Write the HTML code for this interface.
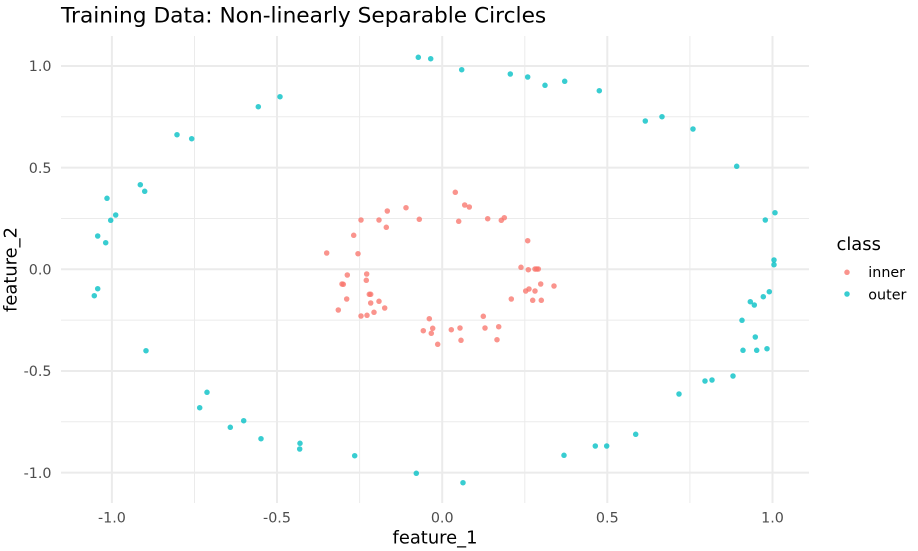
<!DOCTYPE html>
<html>
<head>
<meta charset="utf-8">
<style>
  html, body { margin: 0; padding: 0; background: #ffffff; }
  svg { display: block; }
  text { font-family: "DejaVu Sans", "Liberation Sans", sans-serif; }
</style>
</head>
<body>
<svg width="918" height="551" viewBox="0 0 918 551" xmlns="http://www.w3.org/2000/svg">
  <rect x="0" y="0" width="918" height="551" fill="#ffffff"/>
  <g stroke="#EBEBEB" stroke-width="1">
    <line x1="194.5" y1="36" x2="194.5" y2="503"/>
    <line x1="359.6" y1="36" x2="359.6" y2="503"/>
    <line x1="524.8" y1="36" x2="524.8" y2="503"/>
    <line x1="689.9" y1="36" x2="689.9" y2="503"/>
    <line x1="61" y1="116.8" x2="809" y2="116.8"/>
    <line x1="61" y1="218.5" x2="809" y2="218.5"/>
    <line x1="61" y1="320.1" x2="809" y2="320.1"/>
    <line x1="61" y1="421.8" x2="809" y2="421.8"/>
  </g>
  <g stroke="#EBEBEB" stroke-width="2">
    <line x1="111.9" y1="36" x2="111.9" y2="503"/>
    <line x1="277" y1="36" x2="277" y2="503"/>
    <line x1="442.2" y1="36" x2="442.2" y2="503"/>
    <line x1="607.3" y1="36" x2="607.3" y2="503"/>
    <line x1="772.5" y1="36" x2="772.5" y2="503"/>
    <line x1="61" y1="66" x2="809" y2="66"/>
    <line x1="61" y1="167.6" x2="809" y2="167.6"/>
    <line x1="61" y1="269.3" x2="809" y2="269.3"/>
    <line x1="61" y1="371" x2="809" y2="371"/>
    <line x1="61" y1="472.6" x2="809" y2="472.6"/>
  </g>
  <g fill="#00BFC4" fill-opacity="0.78">
    <circle cx="418.3" cy="57.3" r="2.75"/>
    <circle cx="430.7" cy="58.7" r="2.75"/>
    <circle cx="461.7" cy="69.7" r="2.75"/>
    <circle cx="510.3" cy="74" r="2.75"/>
    <circle cx="527.7" cy="77" r="2.75"/>
    <circle cx="545" cy="85.3" r="2.75"/>
    <circle cx="564.7" cy="81.3" r="2.75"/>
    <circle cx="599.3" cy="90.7" r="2.75"/>
    <circle cx="645.3" cy="121" r="2.75"/>
    <circle cx="662" cy="116.7" r="2.75"/>
    <circle cx="693" cy="129" r="2.75"/>
    <circle cx="736.7" cy="166.3" r="2.75"/>
    <circle cx="765.3" cy="220" r="2.75"/>
    <circle cx="775" cy="212.7" r="2.75"/>
    <circle cx="774" cy="260" r="2.75"/>
    <circle cx="774" cy="264.7" r="2.75"/>
    <circle cx="258.3" cy="106.7" r="2.75"/>
    <circle cx="280" cy="96.7" r="2.75"/>
    <circle cx="177" cy="134.7" r="2.75"/>
    <circle cx="191.7" cy="138.7" r="2.75"/>
    <circle cx="140.3" cy="184.7" r="2.75"/>
    <circle cx="144.7" cy="191.3" r="2.75"/>
    <circle cx="107" cy="198.3" r="2.75"/>
    <circle cx="115.7" cy="215" r="2.75"/>
    <circle cx="110.7" cy="220.3" r="2.75"/>
    <circle cx="97.7" cy="236" r="2.75"/>
    <circle cx="105.7" cy="242.7" r="2.75"/>
    <circle cx="97.7" cy="288.7" r="2.75"/>
    <circle cx="94.3" cy="295.7" r="2.75"/>
    <circle cx="146" cy="350.7" r="2.75"/>
    <circle cx="207" cy="392.3" r="2.75"/>
    <circle cx="199.7" cy="407.7" r="2.75"/>
    <circle cx="243.7" cy="420.7" r="2.75"/>
    <circle cx="230.3" cy="427.3" r="2.75"/>
    <circle cx="261" cy="438.7" r="2.75"/>
    <circle cx="300" cy="443.3" r="2.75"/>
    <circle cx="299.7" cy="449" r="2.75"/>
    <circle cx="354.7" cy="455.7" r="2.75"/>
    <circle cx="416.3" cy="473.3" r="2.75"/>
    <circle cx="769.3" cy="291.7" r="2.75"/>
    <circle cx="763.3" cy="296.7" r="2.75"/>
    <circle cx="750.3" cy="301.7" r="2.75"/>
    <circle cx="754.3" cy="305" r="2.75"/>
    <circle cx="742" cy="320.3" r="2.75"/>
    <circle cx="755.3" cy="337" r="2.75"/>
    <circle cx="743" cy="350.3" r="2.75"/>
    <circle cx="756.7" cy="350.3" r="2.75"/>
    <circle cx="767" cy="348.7" r="2.75"/>
    <circle cx="733" cy="376" r="2.75"/>
    <circle cx="705" cy="381" r="2.75"/>
    <circle cx="712" cy="380" r="2.75"/>
    <circle cx="679" cy="394" r="2.75"/>
    <circle cx="635.7" cy="434.3" r="2.75"/>
    <circle cx="595.3" cy="446" r="2.75"/>
    <circle cx="606.7" cy="446" r="2.75"/>
    <circle cx="564" cy="455.3" r="2.75"/>
    <circle cx="463" cy="482.7" r="2.75"/>
  </g>
  <g fill="#F8766D" fill-opacity="0.78">
    <circle cx="455.3" cy="192.3" r="2.75"/>
    <circle cx="464.7" cy="205" r="2.75"/>
    <circle cx="469.3" cy="207" r="2.75"/>
    <circle cx="458.7" cy="221.3" r="2.75"/>
    <circle cx="487.7" cy="218.7" r="2.75"/>
    <circle cx="501.3" cy="220.3" r="2.75"/>
    <circle cx="504.3" cy="217.7" r="2.75"/>
    <circle cx="527.7" cy="240.7" r="2.75"/>
    <circle cx="521" cy="267.3" r="2.75"/>
    <circle cx="528.3" cy="269.7" r="2.75"/>
    <circle cx="535" cy="269" r="2.75"/>
    <circle cx="536.7" cy="269" r="2.75"/>
    <circle cx="538.3" cy="269" r="2.75"/>
    <circle cx="540.7" cy="284" r="2.75"/>
    <circle cx="554" cy="286" r="2.75"/>
    <circle cx="525.7" cy="291" r="2.75"/>
    <circle cx="529" cy="289" r="2.75"/>
    <circle cx="535" cy="291" r="2.75"/>
    <circle cx="532.7" cy="300.3" r="2.75"/>
    <circle cx="541.3" cy="300.3" r="2.75"/>
    <circle cx="511.3" cy="299" r="2.75"/>
    <circle cx="483.3" cy="316.3" r="2.75"/>
    <circle cx="485" cy="328" r="2.75"/>
    <circle cx="498.7" cy="326.7" r="2.75"/>
    <circle cx="497" cy="339.7" r="2.75"/>
    <circle cx="460" cy="328" r="2.75"/>
    <circle cx="451.3" cy="329.7" r="2.75"/>
    <circle cx="461" cy="340.3" r="2.75"/>
    <circle cx="437.7" cy="344.3" r="2.75"/>
    <circle cx="429.3" cy="318.7" r="2.75"/>
    <circle cx="432.7" cy="328.3" r="2.75"/>
    <circle cx="431.3" cy="333.3" r="2.75"/>
    <circle cx="423.3" cy="330.7" r="2.75"/>
    <circle cx="361" cy="316" r="2.75"/>
    <circle cx="367" cy="315.3" r="2.75"/>
    <circle cx="374" cy="312.3" r="2.75"/>
    <circle cx="384.7" cy="308" r="2.75"/>
    <circle cx="379" cy="301.3" r="2.75"/>
    <circle cx="370.7" cy="303" r="2.75"/>
    <circle cx="369.3" cy="294.3" r="2.75"/>
    <circle cx="370.7" cy="294.3" r="2.75"/>
    <circle cx="346.7" cy="299" r="2.75"/>
    <circle cx="338.3" cy="310" r="2.75"/>
    <circle cx="342" cy="284" r="2.75"/>
    <circle cx="343.3" cy="284.3" r="2.75"/>
    <circle cx="347.3" cy="275" r="2.75"/>
    <circle cx="366.7" cy="274" r="2.75"/>
    <circle cx="366.3" cy="280.3" r="2.75"/>
    <circle cx="326.7" cy="253" r="2.75"/>
    <circle cx="358" cy="253.7" r="2.75"/>
    <circle cx="353.7" cy="235.3" r="2.75"/>
    <circle cx="361" cy="220" r="2.75"/>
    <circle cx="379" cy="220" r="2.75"/>
    <circle cx="387.3" cy="211" r="2.75"/>
    <circle cx="386.3" cy="227.3" r="2.75"/>
    <circle cx="406" cy="207.7" r="2.75"/>
    <circle cx="419.3" cy="219.3" r="2.75"/>
  </g>
  <text x="61" y="22.7" font-size="21.7" fill="#000000">Training Data: Non-linearly Separable Circles</text>
  <g font-size="14.3" fill="#4D4D4D" text-anchor="end">
    <text x="51.5" y="71.2">1.0</text>
    <text x="51.5" y="172.8">0.5</text>
    <text x="51.5" y="274.5">0.0</text>
    <text x="51.5" y="376.2">-0.5</text>
    <text x="51.5" y="477.8">-1.0</text>
  </g>
  <g font-size="14.3" fill="#4D4D4D" text-anchor="middle">
    <text x="111.9" y="522.5">-1.0</text>
    <text x="277" y="522.5">-0.5</text>
    <text x="442.2" y="522.5">0.0</text>
    <text x="607.3" y="522.5">0.5</text>
    <text x="772.5" y="522.5">1.0</text>
  </g>
  <text x="435" y="543.3" font-size="17.9" fill="#000000" text-anchor="middle">feature_1</text>
  <text transform="translate(16.5,269.5) rotate(-90)" x="0" y="0" font-size="17.9" fill="#000000" text-anchor="middle">feature_2</text>
  <text x="836.5" y="250" font-size="17.9" fill="#000000">class</text>
  <circle cx="847" cy="272.3" r="2.75" fill="#F8766D" fill-opacity="0.78"/>
  <circle cx="847" cy="294" r="2.75" fill="#00BFC4" fill-opacity="0.78"/>
  <text x="868.3" y="277" font-size="14.3" fill="#000000">inner</text>
  <text x="868.3" y="299.5" font-size="14.3" fill="#000000">outer</text>
</svg>
</body>
</html>
